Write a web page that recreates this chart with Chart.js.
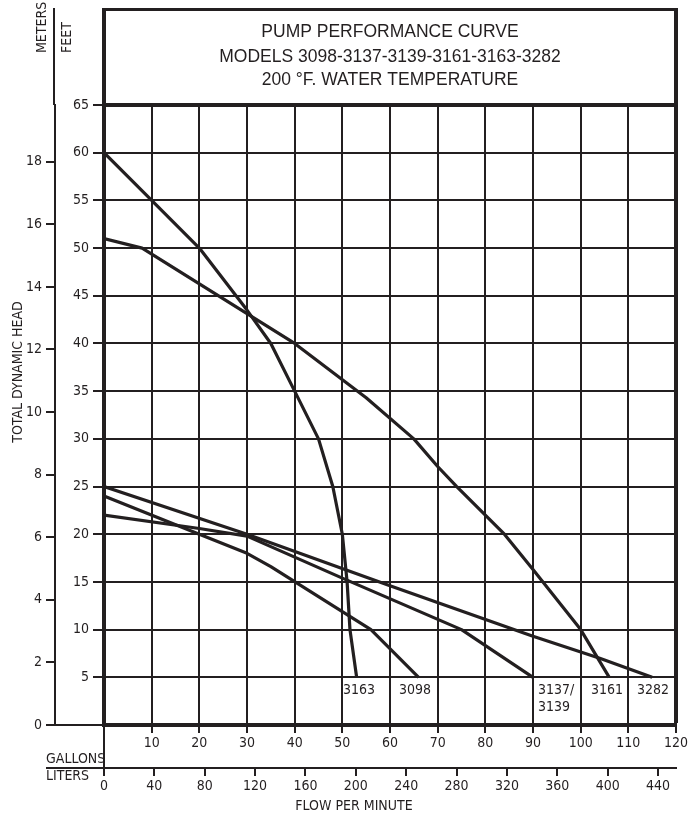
<!DOCTYPE html>
<html><head><meta charset="utf-8">
<script src="https://cdn.jsdelivr.net/npm/chart.js@4"></script>
<style>html,body{margin:0;padding:0;background:#fff;}canvas{display:block;}</style>
</head><body>
<canvas id="c" width="697" height="816" style="width:697px;height:816px"></canvas>
<script>
// ---- data (flow in US gallons per minute, head in feet) ----
const titleLines = ['PUMP PERFORMANCE CURVE', 'MODELS 3098-3137-3139-3161-3163-3282', '200 °F. WATER TEMPERATURE'];
const models = ['3163', '3161', '3098', '3137/3139', '3282'];

const flow3163 = [0, 10, 20, 30, 35, 40, 45, 48, 50, 51, 51.6, 53];
const head3163 = [60, 55, 50, 43.5, 40, 35, 30, 25, 20, 15, 10, 5];

const flow3161 = [0, 8, 40, 55, 65, 70, 74, 84, 90, 100, 106];
const head3161 = [51, 50, 40, 34.3, 30, 27.1, 25, 20, 16.3, 10, 5];

const flow3098 = [0, 20, 30, 35, 56, 66];
const head3098 = [24, 20, 18, 16.6, 10, 5];

const flow3137 = [0, 20, 30, 50, 75, 90];
const head3137 = [22, 20.6, 19.8, 15.4, 10, 5];

const flow3282 = [0, 30, 60, 90, 104, 115];
const head3282 = [25, 20, 14.6, 9.3, 7, 5];

const gallonsMax = 120, gallonsStep = 10;
const feetMax = 65, feetStep = 5;
const litersStep = 40;
const metersStep = 2;
const GAL_TO_L = 3.78541;
const FT_TO_M = 0.3048;

// ---- styling ----
const INK = '#231f20';
const NARROW = "'Liberation Sans Narrow','Arial Narrow','DejaVu Sans Condensed',sans-serif";
const REG = "'Liberation Sans',Arial,sans-serif";

function pts(xs, ys) { return xs.map((x, i) => ({ x: x, y: ys[i] })); }
function ds(label, xs, ys) {
  return { label: label, data: pts(xs, ys), showLine: true, borderColor: INK, borderWidth: 3.2,
           pointRadius: 0, pointHoverRadius: 0, tension: 0, fill: false, borderJoinStyle: 'round', borderCapStyle: 'butt' };
}

const decor = {
  id: 'decor',
  afterDraw(chart) {
    const ctx = chart.ctx, a = chart.chartArea;
    const yM = chart.scales.yM, xL = chart.scales.xL;
    const line = (x1, y1, x2, y2) => { ctx.beginPath(); ctx.moveTo(x1, y1); ctx.lineTo(x2, y2); ctx.stroke(); };
    ctx.save();
    ctx.strokeStyle = INK; ctx.fillStyle = INK; ctx.lineCap = 'butt';
    // header box
    ctx.lineWidth = 3; line(a.left - 2, 9.5, a.right + 2, 9.5);
    ctx.lineWidth = 4; line(a.left, 8, a.left, a.top); line(a.right, 8, a.right, a.top);
    // meters axis line extension
    ctx.lineWidth = 2; line(yM.right - 1, 8, yM.right - 1, a.top);
    // base line extension to the left
    ctx.lineWidth = 2; line(yM.right - 9, a.bottom, a.left, a.bottom);
    // vertical at x=0 through the gallons band
    line(a.left, a.bottom, a.left, xL.top);
    // liters line extension
    line(46, xL.top, a.left, xL.top);

    // titles
    ctx.textAlign = 'center'; ctx.textBaseline = 'middle';
    ctx.font = '17.5px ' + REG;
    const cx = (a.left + a.right) / 2;
    ctx.fillText(titleLines[0], cx, 32);
    ctx.fillText(titleLines[1], cx, 57);
    ctx.fillText(titleLines[2], cx, 80.5);

    ctx.font = '14px ' + NARROW;
    // rotated labels
    const rot = (t, x, y, align) => {
      ctx.save(); ctx.translate(x, y); ctx.rotate(-Math.PI / 2);
      ctx.textAlign = align; ctx.textBaseline = 'middle'; ctx.fillText(t, 0, 0); ctx.restore();
    };
    rot('METERS', 42, 53, 'left');
    rot('FEET', 67.5, 53, 'left');
    rot('TOTAL DYNAMIC HEAD', 18.5, 372, 'center');

    ctx.textAlign = 'left'; ctx.textBaseline = 'middle';
    ctx.fillText('GALLONS', 46, 759);
    ctx.fillText('LITERS', 46, 776);
    ctx.textAlign = 'center';
    ctx.fillText('FLOW PER MINUTE', 354, 806);

    // curve labels
    ctx.fillText('3163', 359, 690);
    ctx.fillText('3098', 415, 690);
    ctx.fillText('3161', 607, 690);
    ctx.fillText('3282', 653, 690);
    ctx.textAlign = 'left';
    ctx.fillText('3137/', 538, 690);
    ctx.fillText('3139', 538, 707);
    ctx.restore();
  }
};

const tickFont = { family: NARROW, size: 14 };

new Chart(document.getElementById('c'), {
  type: 'scatter',
  data: {
    datasets: [
      ds(models[0], flow3163, head3163),
      ds(models[1], flow3161, head3161),
      ds(models[2], flow3098, head3098),
      ds(models[3], flow3137, head3137),
      ds(models[4], flow3282, head3282)
    ]
  },
  options: {
    responsive: false, devicePixelRatio: 1, animation: false,
    layout: { padding: { top: 105, right: 21, left: 0, bottom: 0 } },
    plugins: { legend: { display: false }, tooltip: { enabled: false }, title: { display: false } },
    scales: {
      x: {
        type: 'linear', position: 'bottom', min: 0, max: gallonsMax, weight: 0,
        ticks: { stepSize: gallonsStep, autoSkip: false, maxRotation: 0, padding: 2, color: INK, font: tickFont,
                 callback: v => v === 0 ? '' : String(v) },
        grid: { color: INK, lineWidth: c => (c.tick && c.tick.value === gallonsMax) ? 4 : 2, tickLength: 8, tickWidth: 2, tickColor: INK },
        border: { display: true, color: INK, width: 4 },
        afterFit: s => { s.height = 43; }
      },
      xL: {
        type: 'linear', position: 'bottom', min: 0, max: gallonsMax * GAL_TO_L, weight: 1,
        ticks: { stepSize: litersStep, includeBounds: false, autoSkip: false, maxRotation: 0, padding: 2, color: INK, font: tickFont },
        grid: { drawOnChartArea: false, color: INK, lineWidth: 2, tickLength: 8 },
        border: { display: true, color: INK, width: 2 },
        afterFit: s => { s.height = 48; }
      },
      y: {
        type: 'linear', position: 'left', min: 0, max: feetMax, weight: 0,
        ticks: { stepSize: feetStep, autoSkip: false, padding: 4, color: INK, font: tickFont,
                 callback: v => v === 0 ? '' : String(v) },
        grid: { color: INK, lineWidth: c => (c.tick && c.tick.value === feetMax) ? 4 : 2, tickLength: 11, tickWidth: 2, tickColor: INK },
        border: { display: true, color: INK, width: 4 },
        afterFit: s => { s.width = 49; }
      },
      yM: {
        type: 'linear', position: 'left', min: 0, max: feetMax * FT_TO_M, weight: 1,
        ticks: { stepSize: metersStep, includeBounds: false, autoSkip: false, padding: 4, color: INK, font: tickFont },
        grid: { drawOnChartArea: false, color: INK, lineWidth: 2, tickLength: 9 },
        border: { display: true, color: INK, width: 2 },
        afterFit: s => { s.width = 55; }
      }
    }
  },
  plugins: [decor]
});
</script>
</body></html>
